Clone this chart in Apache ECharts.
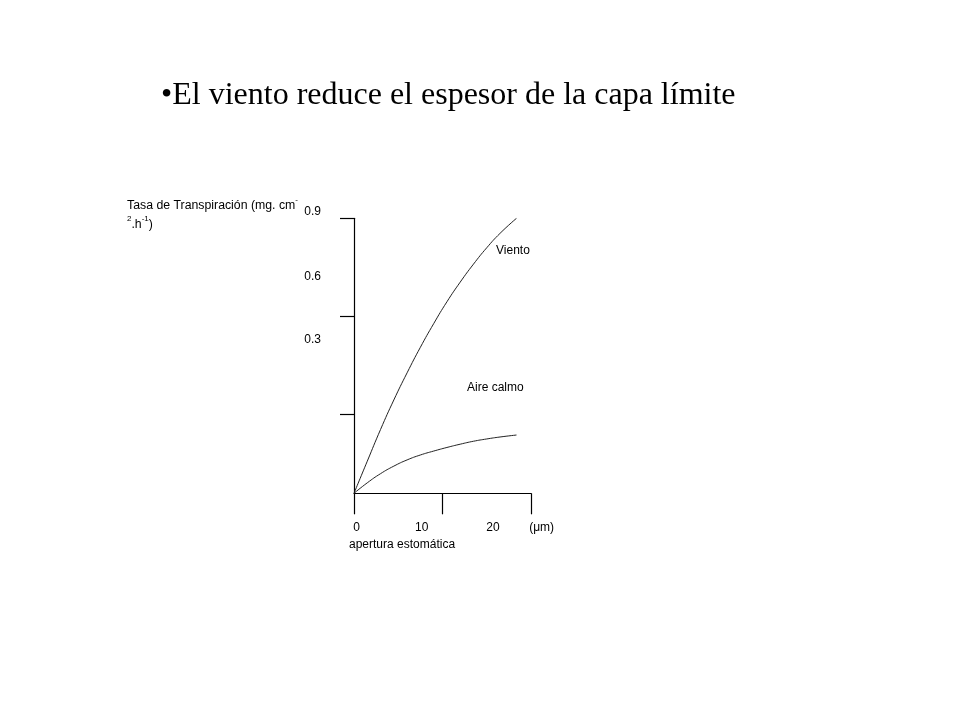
<!DOCTYPE html>
<html>
<head>
<meta charset="utf-8">
<script src="https://cdn.jsdelivr.net/npm/echarts@6/dist/echarts.min.js"></script>
<style>html,body{margin:0;padding:0;background:#fff;}#c{width:960px;height:720px;}</style>
</head>
<body>
<div id="c"></div>
<script>
// ---- data ----
const headline = '•El viento reduce el espesor de la capa límite';
const yAxisTitle = 'Tasa de Transpiración (mg. cm{sup|-}\n{sup|2}.h{sup|-1})';
const xAxisTitle = 'apertura estomática';
const yTickLabels = ['0.9', '0.6', '0.3'];
const xTickLabels = ['0', '10', '20', '(μm)'];
const seriesNames = ['Viento', 'Aire calmo'];
// apertura (µm) and transpiration (arbitrary units)
const vientoX = [0, 1.5, 3, 4.5, 6, 7.5, 9, 10.5, 12, 13.5, 15, 16.5, 18.36];
const vientoY = [0, 0.098, 0.195, 0.285, 0.368, 0.446, 0.518, 0.585, 0.645, 0.700, 0.750, 0.794, 0.84];
const calmoX = [0, 1.5, 3, 4.5, 6, 7.5, 9, 10.5, 12, 13.5, 15, 16.5, 18.36];
const calmoY = [0, 0.032, 0.060, 0.083, 0.102, 0.117, 0.129, 0.140, 0.150, 0.159, 0.166, 0.172, 0.178];

// ---- layout (positions only) ----
const yTickPos = [0.24, 0.54, 0.84];
const yLabelPos = [0.860, 0.661, 0.468];
const xLabelPos = [0.3, 7.65, 15.7, 21.2];
function nearestIdx(arr, v) {
  let b = 0;
  for (let i = 1; i < arr.length; i++) if (Math.abs(arr[i] - v) < Math.abs(arr[b] - v)) b = i;
  return b;
}
const sans = 'Arial, "Liberation Sans", sans-serif';
const lineCol = '#000';
const small = {fontFamily: sans, fontSize: 12, fontWeight: 'normal', color: '#000'};

const chart = echarts.init(document.getElementById('c'), null, {renderer: 'canvas'});
chart.setOption({
  backgroundColor: '#fff',
  animation: false,
  title: [
    {text: headline, left: 161, top: 80, padding: 0,
     textStyle: {fontFamily: '"Times New Roman", "Liberation Serif", serif', fontSize: 32, fontWeight: 'normal', color: '#000'}},
    {text: yAxisTitle, left: 127, top: 196, padding: 0,
     textStyle: Object.assign({}, small, {fontSize: 12.3, lineHeight: 19,
       rich: {sup: {fontFamily: sans, fontSize: 8, verticalAlign: 'top', color: '#000', lineHeight: 19}}})},
    {text: xAxisTitle, left: 349, top: 539, padding: 0, textStyle: small},
    {text: seriesNames[0], left: 496, top: 245, padding: 0, textStyle: small},
    {text: seriesNames[1], left: 467, top: 382, padding: 0, textStyle: small}
  ],
  grid: [
    {left: 354, top: 218.3, width: 177, height: 275, containLabel: false},
    {left: 354, top: 200, width: 206, height: 293.3, containLabel: false}
  ],
  xAxis: [
    {gridIndex: 0, type: 'value', min: 0, max: 20, interval: 10,
     axisLine: {show: true, onZero: false, lineStyle: {color: lineCol, width: 1.2}},
     axisTick: {show: true, inside: false, length: 21, lineStyle: {color: lineCol, width: 1.2}},
     axisLabel: {show: false}, splitLine: {show: false}},
    {gridIndex: 1, type: 'value', min: 0, max: 23.28,
     axisLine: {show: false}, axisTick: {show: false}, splitLine: {show: false},
     axisLabel: {show: true, customValues: xLabelPos, margin: 28, color: '#000', fontFamily: sans, fontSize: 12,
       showMinLabel: true, showMaxLabel: true,
       formatter: v => xTickLabels[nearestIdx(xLabelPos, v)]}}
  ],
  yAxis: [
    {gridIndex: 0, type: 'value', min: 0, max: 0.84,
     axisLine: {show: true, onZero: false, lineStyle: {color: lineCol, width: 1.2}},
     axisTick: {show: true, inside: false, length: 14, customValues: yTickPos, lineStyle: {color: lineCol, width: 1.2}},
     axisLabel: {show: false}, splitLine: {show: false}},
    {gridIndex: 1, type: 'value', min: 0, max: 0.896,
     axisLine: {show: false}, axisTick: {show: false}, splitLine: {show: false},
     axisLabel: {show: true, customValues: yLabelPos, margin: 33, color: '#000', fontFamily: sans, fontSize: 12,
       formatter: v => yTickLabels[nearestIdx(yLabelPos, v)]}}
  ],
  series: [
    {name: seriesNames[0], type: 'line', xAxisIndex: 0, yAxisIndex: 0, smooth: 0.5, showSymbol: false, symbol: 'none',
     lineStyle: {color: '#222', width: 1}, data: vientoX.map((x, i) => [x, vientoY[i]])},
    {name: seriesNames[1], type: 'line', xAxisIndex: 0, yAxisIndex: 0, smooth: 0.5, showSymbol: false, symbol: 'none',
     lineStyle: {color: '#222', width: 1}, data: calmoX.map((x, i) => [x, calmoY[i]])}
  ]
});
</script>
</body>
</html>
